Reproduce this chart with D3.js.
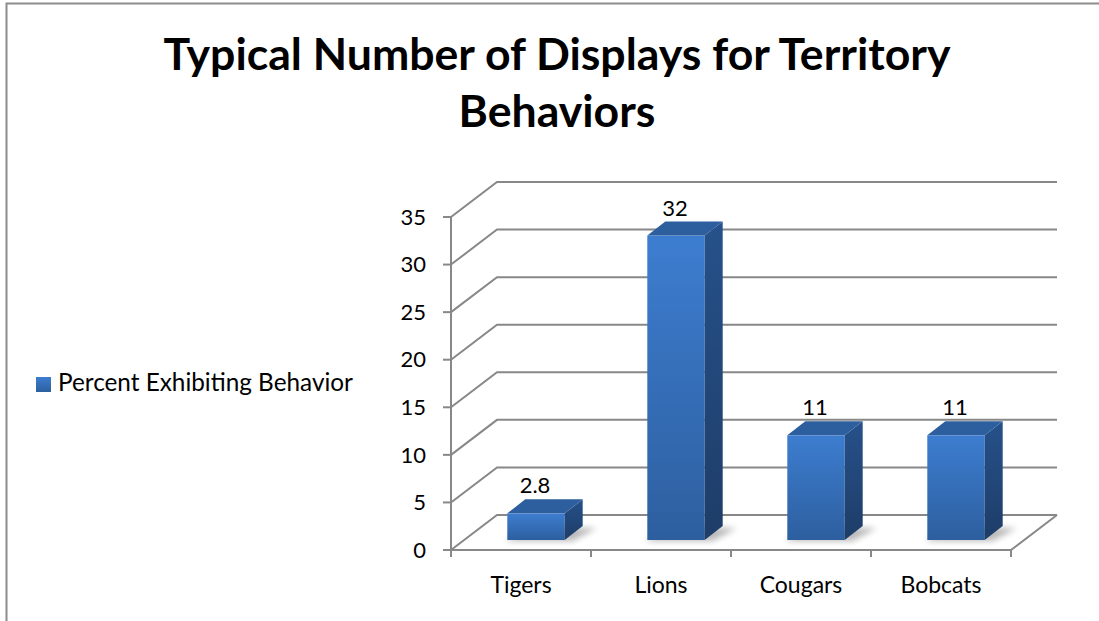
<!DOCTYPE html>
<html>
<head>
<meta charset="utf-8">
<script src="https://cdn.jsdelivr.net/npm/d3@7"></script>
<style>
  body { margin: 0; background: #fff; }
  svg { display: block; font-family: Lato, "Open Sans", sans-serif; }
</style>
</head>
<body>
<svg id="chart" width="1099" height="621"></svg>
<script>
const titleLines = ["Typical Number of Displays for Territory", "Behaviors"];
const categories = ["Tigers", "Lions", "Cougars", "Bobcats"];
const values = [2.8, 32, 11, 11];
const valueLabels = ["2.8", "32", "11", "11"];
const yTicks = [0, 5, 10, 15, 20, 25, 30, 35];
const seriesName = "Percent Exhibiting Behavior";

const svg = d3.select("#chart");

// chart frame (right/bottom edges fall outside the picture)
svg.append("rect")
  .attr("x", 6.5).attr("y", 3.5)
  .attr("width", 1200).attr("height", 700)
  .attr("fill", "#fff")
  .attr("stroke", "#8c8c8c")
  .attr("stroke-width", 2);

// 3d depth of the plot box
const depth = { dx: 46, dy: -35 };
const barFront = { dx: 15, dy: -10 };
const barBack = { dx: 33, dy: -24 };

const x = d3.scaleBand().domain(categories).range([451, 1011]);
const y = d3.scaleLinear().domain([0, 35]).range([550, 217]);

const defs = svg.append("defs");
function grad(id, c1, c2) {
  const g = defs.append("linearGradient").attr("id", id)
    .attr("x1", 0).attr("y1", 0).attr("x2", 0).attr("y2", 1);
  g.append("stop").attr("offset", "0%").attr("stop-color", c1);
  g.append("stop").attr("offset", "100%").attr("stop-color", c2);
}
grad("front", "#3d7dd0", "#2d5f9f");
grad("side", "#26518a", "#1e3d68");
defs.append("filter").attr("id", "blur")
  .attr("x", "-20%").attr("y", "-50%").attr("width", "140%").attr("height", "200%")
  .append("feGaussianBlur").attr("stdDeviation", 3);

const grid = svg.append("g")
  .attr("fill", "none")
  .attr("stroke", "#888")
  .attr("stroke-width", 2);

// back wall + side wall gridlines
grid.selectAll("polyline.grid")
  .data(yTicks)
  .enter()
  .append("polyline")
  .attr("class", "grid")
  .attr("points", (d) => {
    const x0 = x.range()[0], x1 = x.range()[1];
    return x0 + "," + y(d) + " " +
      (x0 + depth.dx) + "," + (y(d) + depth.dy) + " " +
      (x1 + depth.dx) + "," + (y(d) + depth.dy);
  });

// floor outline (front + right edges)
grid.append("polyline")
  .attr("points", () => {
    const x0 = x.range()[0], x1 = x.range()[1];
    return x0 + "," + y(0) + " " + x1 + "," + y(0) + " " +
      (x1 + depth.dx) + "," + (y(0) + depth.dy);
  });

// value axis
grid.append("line")
  .attr("x1", x.range()[0]).attr("x2", x.range()[0])
  .attr("y1", y(0)).attr("y2", y(35));
grid.selectAll("line.ytick")
  .data(yTicks)
  .enter()
  .append("line")
  .attr("class", "ytick")
  .attr("x1", x.range()[0] - 8).attr("x2", x.range()[0])
  .attr("y1", (d) => y(d)).attr("y2", (d) => y(d));

// category ticks
const bounds = categories.map((c) => x(c)).concat([x.range()[1]]);
grid.selectAll("line.xtick")
  .data(bounds)
  .enter()
  .append("line")
  .attr("class", "xtick")
  .attr("x1", (d) => d).attr("x2", (d) => d)
  .attr("y1", y(0)).attr("y2", y(0) + 7);

svg.append("g")
  .selectAll("text")
  .data(yTicks)
  .enter()
  .append("text")
  .attr("x", 426)
  .attr("y", (d) => y(d))
  .attr("dy", "0.35em")
  .attr("text-anchor", "end")
  .attr("font-size", 22)
  .attr("fill", "#000")
  .text((d) => d);

svg.append("g")
  .selectAll("text")
  .data(categories)
  .enter()
  .append("text")
  .attr("x", (d) => x(d) + x.bandwidth() / 2)
  .attr("y", 593)
  .attr("text-anchor", "middle")
  .attr("font-size", 23)
  .attr("fill", "#000")
  .text((d) => d);

// bars
const bw = x.bandwidth() * 0.41;
const bars = svg.append("g")
  .selectAll("g.bar")
  .data(categories.map((c, i) => ({ cat: c, v: values[i], label: valueLabels[i] })))
  .enter()
  .append("g")
  .attr("class", "bar");

function fx(d) { return x(d.cat) + x.bandwidth() / 2 - bw / 2 + barFront.dx; }
const ddx = barBack.dx - barFront.dx, ddy = barBack.dy - barFront.dy;

bars.append("polygon")
  .attr("fill", "#000")
  .attr("opacity", 0.28)
  .attr("filter", "url(#blur)")
  .attr("points", (d) => {
    const l = fx(d), r = l + bw, b = y(0) + barFront.dy;
    return (l - 2) + "," + (b + 1) + " " + (r + 8) + "," + (b + 1) + " " +
      (r + ddx + 14) + "," + (b + ddy + 2) + " " + (l + ddx) + "," + (b + ddy + 2);
  });

bars.append("rect")
  .attr("x", fx)
  .attr("y", (d) => y(d.v) + barFront.dy)
  .attr("width", bw)
  .attr("height", (d) => y(0) - y(d.v))
  .attr("fill", "url(#front)");

bars.append("polygon")
  .attr("fill", "url(#side)")
  .attr("points", (d) => {
    const r = fx(d) + bw, t = y(d.v) + barFront.dy, b = y(0) + barFront.dy;
    return r + "," + t + " " + (r + ddx) + "," + (t + ddy) + " " +
      (r + ddx) + "," + (b + ddy) + " " + r + "," + b;
  });

bars.append("polygon")
  .attr("fill", "#2d5e9e")
  .attr("points", (d) => {
    const l = fx(d), r = l + bw, t = y(d.v) + barFront.dy;
    return l + "," + t + " " + r + "," + t + " " +
      (r + ddx) + "," + (t + ddy) + " " + (l + ddx) + "," + (t + ddy);
  });

bars.append("text")
  .attr("x", (d) => fx(d) + bw / 2 - 1)
  .attr("y", (d) => y(d.v) + barBack.dy - 6)
  .attr("text-anchor", "middle")
  .attr("font-size", 22)
  .attr("fill", "#000")
  .text((d) => d.label);

// legend
svg.append("rect")
  .attr("x", 36).attr("y", 377)
  .attr("width", 15).attr("height", 15)
  .attr("fill", "url(#front)");
const legendText = svg.append("text")
  .attr("x", 58).attr("y", 391)
  .attr("font-size", 20)
  .attr("fill", "#000")
  .text(seriesName);

// title
const title = svg.append("g")
  .selectAll("text")
  .data(titleLines)
  .enter()
  .append("text")
  .attr("x", 557)
  .attr("y", (d, i) => 70 + i * 57)
  .attr("text-anchor", "middle")
  .attr("font-weight", "bold")
  .attr("font-size", 40)
  .attr("fill", "#000")
  .text((d) => d);

// size title so the first line spans the same width as the original
const w = title.node().getComputedTextLength();
title.attr("font-size", 40 * 787 / w);
const lw = legendText.node().getComputedTextLength();
legendText.attr("font-size", 20 * 295 / lw);
</script>
</body>
</html>
